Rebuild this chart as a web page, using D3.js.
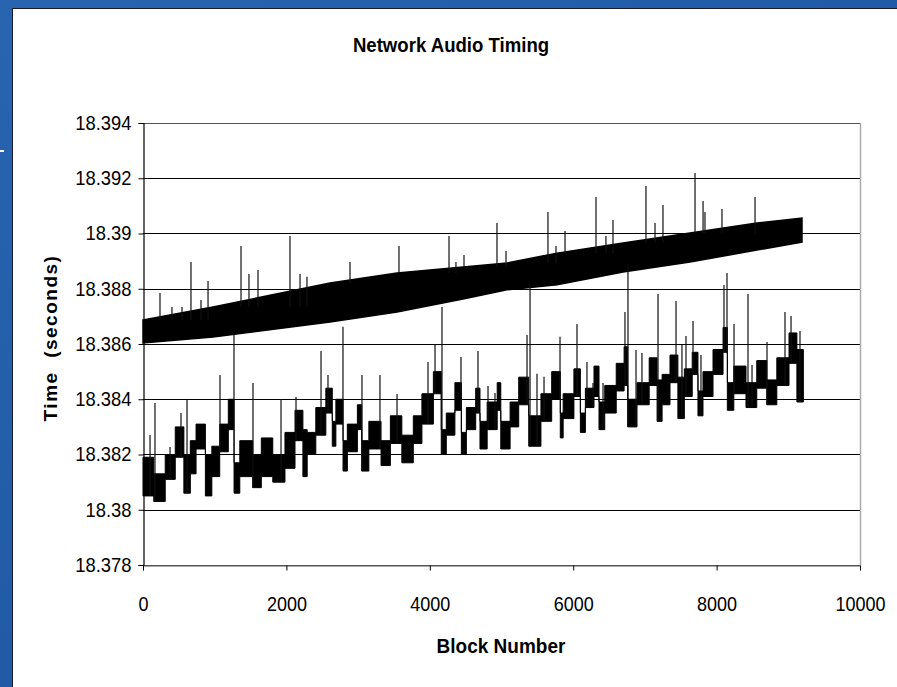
<!DOCTYPE html>
<html lang="en">
<head>
	<meta charset="UTF-8">
	<title>Network Audio Timing</title>
	<script src="https://cdn.jsdelivr.net/npm/d3@7/dist/d3.min.js"></script>
	<style>
		body { margin: 0; background: #1f5aa6; }
		text { font-family: "Liberation Sans", Arial, sans-serif; }
	</style>
</head>
<body>
	<div id="container"></div>
	<script>
		var width = 897;
		var height = 687;

		// y axis ticks (seconds) and x axis ticks (block number)
		var yTicks = [18.378, 18.38, 18.382, 18.384, 18.386, 18.388, 18.39, 18.392, 18.394];
		var yTickLabels = ["18.378", "18.38", "18.382", "18.384", "18.386", "18.388", "18.39", "18.392", "18.394"];
		var xTicks = [0, 2000, 4000, 6000, 8000, 10000];

		// upper trace: band envelope
		var upperBlocks = [0, 976, 2608, 3543, 4463, 5077, 5774, 6695, 7629, 8563, 9191];
		var upperLow = [18.38604, 18.38625, 18.3868, 18.38716, 18.38763, 18.38796, 18.38814, 18.38861, 18.38897, 18.3894, 18.38969];
		var upperHigh = [18.38687, 18.38734, 18.38821, 18.38857, 18.38879, 18.38893, 18.38929, 18.38966, 18.39002, 18.39038, 18.39056];

		// upper trace spikes
		var upperSpikeBlocks = [237, 404, 544, 669, 809, 907, 1367, 1478, 1604, 2050, 2190, 2287, 2887, 3570, 4268, 4365, 4477, 4937, 5063, 5648, 5760, 5886, 6318, 6457, 6555, 7015, 7141, 7252, 7699, 7811, 7838, 8075, 8536];
		var upperSpikeTops = [18.38785, 18.38734, 18.38734, 18.38897, 18.38759, 18.38828, 18.38955, 18.38853, 18.38868, 18.38991, 18.38853, 18.38843, 18.38897, 18.38955, 18.38991, 18.38897, 18.38922, 18.39038, 18.38937, 18.39078, 18.38955, 18.39009, 18.39132, 18.38991, 18.39049, 18.39172, 18.39038, 18.39103, 18.39219, 18.39118, 18.39078, 18.39089, 18.39132];

		// lower trace: stepped blocks (start block, low, high)
		var lowerBlocks = [0, 150, 310, 450, 570, 660, 740, 870, 960, 1070, 1190, 1270, 1350, 1530, 1650, 1810, 1980, 2120, 2230, 2290, 2410, 2550, 2640, 2690, 2790, 2850, 2990, 3050, 3150, 3320, 3450, 3610, 3770, 3890, 4050, 4160, 4230, 4350, 4440, 4510, 4640, 4700, 4800, 4940, 4990, 5120, 5240, 5380, 5550, 5700, 5820, 5860, 6010, 6100, 6170, 6290, 6360, 6440, 6600, 6710, 6760, 6890, 7060, 7170, 7240, 7350, 7460, 7550, 7660, 7740, 7810, 7950, 8090, 8150, 8240, 8410, 8560, 8700, 8840, 9010, 9120, 9210];
		var lowerLow = [18.3805, 18.3803, 18.3811, 18.3819, 18.3806, 18.3813, 18.3822, 18.3805, 18.3812, 18.3821, 18.3829, 18.3806, 18.3812, 18.3808, 18.3812, 18.381, 18.3815, 18.3825, 18.3812, 18.382, 18.3827, 18.3835, 18.3823, 18.3831, 18.3814, 18.3821, 18.3829, 18.3814, 18.3822, 18.3816, 18.3824, 18.3817, 18.3824, 18.3831, 18.3842, 18.382, 18.3827, 18.3836, 18.382, 18.3829, 18.3835, 18.3822, 18.3829, 18.3836, 18.3822, 18.383, 18.3838, 18.3823, 18.3832, 18.384, 18.3826, 18.3833, 18.3841, 18.3828, 18.3837, 18.3841, 18.3829, 18.3835, 18.3843, 18.3845, 18.383, 18.3838, 18.3845, 18.3832, 18.3838, 18.3846, 18.3833, 18.3841, 18.3849, 18.3834, 18.3841, 18.3849, 18.3857, 18.3836, 18.3842, 18.3837, 18.3844, 18.3838, 18.3845, 18.3853, 18.3839, 18.3839];
		var lowerHigh = [18.3819, 18.3813, 18.382, 18.383, 18.382, 18.3825, 18.3831, 18.382, 18.3823, 18.3831, 18.384, 18.3817, 18.3825, 18.382, 18.3826, 18.382, 18.3828, 18.3836, 18.3829, 18.3828, 18.3837, 18.3844, 18.3832, 18.384, 18.3825, 18.3831, 18.3838, 18.3825, 18.3832, 18.3825, 18.3834, 18.3827, 18.3834, 18.3842, 18.385, 18.3829, 18.3835, 18.3846, 18.3828, 18.3837, 18.3844, 18.3832, 18.3839, 18.3846, 18.3832, 18.3839, 18.3848, 18.3834, 18.3842, 18.385, 18.3835, 18.3842, 18.3851, 18.3835, 18.3844, 18.3852, 18.3839, 18.3845, 18.3853, 18.3859, 18.384, 18.3846, 18.3855, 18.3847, 18.3849, 18.3856, 18.3848, 18.3851, 18.3857, 18.3843, 18.385, 18.3858, 18.3866, 18.3846, 18.3852, 18.3846, 18.3854, 18.3847, 18.3855, 18.3864, 18.3858, 18.3858];

		// lower trace spikes
		var lowerSpikeBlocks = [98, 167, 377, 530, 614, 1074, 1269, 1534, 1925, 2134, 2483, 2580, 2789, 3054, 3305, 3543, 3975, 4073, 4170, 4435, 4672, 4812, 4909, 5356, 5398, 5495, 5593, 5816, 6053, 6192, 6276, 6416, 6722, 6764, 6876, 6959, 7183, 7434, 7517, 7573, 7671, 7782, 8103, 8145, 8243, 8438, 8494, 8703, 8954, 9038, 9163];
		var lowerSpikeTops = [18.38271, 18.38386, 18.38227, 18.3835, 18.38401, 18.38488, 18.38633, 18.38459, 18.38401, 18.38408, 18.38575, 18.38488, 18.38662, 18.38488, 18.38488, 18.38419, 18.38535, 18.38596, 18.38734, 18.38553, 18.38575, 18.38448, 18.38423, 18.38633, 18.38821, 18.38492, 18.38481, 18.38626, 18.38672, 18.38535, 18.38459, 18.38459, 18.38716, 18.38886, 18.38578, 18.38567, 18.38781, 18.38756, 18.38596, 18.38629, 18.38683, 18.3856, 18.38814, 18.38857, 18.38672, 18.38781, 18.38524, 18.38607, 18.38716, 18.38701, 18.38647];

		var svg = d3.select("#container").append("svg")
				.attr("width", width)
				.attr("height", height)
				.style("display", "block");

		// blue slide background with the white chart panel
		var grad = svg.append("defs").append("linearGradient")
				.attr("id", "bg")
				.attr("x1", 0).attr("y1", 0).attr("x2", 1).attr("y2", 1);
		grad.append("stop").attr("offset", "0%").attr("stop-color", "#2864b0");
		grad.append("stop").attr("offset", "100%").attr("stop-color", "#1a529c");
		svg.append("rect")
				.attr("width", width).attr("height", height)
				.attr("fill", "url(#bg)");
		svg.append("rect")
				.attr("x", 0).attr("y", 150).attr("width", 4).attr("height", 2)
				.attr("fill", "#ffffff");
		svg.append("rect")
				.attr("x", 12.5).attr("y", 8.5)
				.attr("width", width).attr("height", height)
				.attr("fill", "#ffffff")
				.attr("stroke", "#1a1a2e")
				.attr("stroke-width", 1);

		var x = d3.scaleLinear()
				.domain([0, 10000])
				.range([143, 860]);
		var y = d3.scaleLinear()
				.domain([18.378, 18.394])
				.range([565, 123]);

		// gridlines
		svg.selectAll(".grid").data(yTicks)
			.enter().append("line")
				.attr("x1", x(0))
				.attr("x2", x(10000))
				.attr("y1", d => Math.round(y(d)) + 0.5)
				.attr("y2", d => Math.round(y(d)) + 0.5)
				.style("stroke", (d, i) => (i == 0 || i == yTicks.length - 1) ? "#555" : "#000")
				.style("stroke-width", 1.2);
		svg.append("line")
				.attr("x1", x(10000) + 0.5).attr("x2", x(10000) + 0.5)
				.attr("y1", y(18.394)).attr("y2", y(18.378))
				.style("stroke", "#aaa")
				.style("stroke-width", 1.5);

		// axes
		var yAxis = d3.axisLeft(y)
				.tickValues(yTicks)
				.tickFormat((d, i) => yTickLabels[i])
				.tickSize(5)
				.tickPadding(8);
		var gy = svg.append("g")
				.attr("transform", "translate(" + (x(0) + 0.5) + ",0)")
				.call(yAxis);
		gy.selectAll("text")
				.style("font-size", "20px")
				.attr("transform", "scale(0.92,1)")
				.attr("fill", "#000");

		var xAxis = d3.axisBottom(x)
				.tickValues(xTicks)
				.tickFormat(d3.format("d"))
				.tickSize(5)
				.tickPadding(26);
		var gx = svg.append("g")
				.attr("transform", "translate(0," + (y(18.378) + 0.5) + ")")
				.call(xAxis);
		gx.selectAll("text")
				.style("font-size", "20px")
				.attr("transform", "scale(0.9,1)")
				.attr("fill", "#000");
		gx.select(".domain").style("stroke", "#555");
		svg.selectAll(".tick line").style("stroke", "#000");
		gy.select(".domain").style("stroke", "#000").style("stroke-width", 1.2);

		// upper trace band
		var upper = upperBlocks.map((b, i) => [b, upperLow[i], upperHigh[i]]);
		svg.append("path")
				.datum(upper)
				.attr("d", d3.area()
					.x(d => x(d[0]))
					.y0(d => y(d[1]))
					.y1(d => y(d[2])))
				.attr("fill", "#000")
				.attr("stroke", "#000")
				.attr("stroke-width", 1.5);

		// spikes start inside the band (high edge of the sample before them)
		function upperBase(b) {
			var i = Math.max(d3.bisectRight(upperBlocks, b) - 1, 0);
			return upperHigh[i];
		}
		svg.selectAll(".upper-spike").data(upperSpikeBlocks)
			.enter().append("line")
				.attr("x1", d => x(d))
				.attr("x2", d => x(d))
				.attr("y1", d => y(upperBase(d)))
				.attr("y2", (d, i) => y(upperSpikeTops[i]))
				.style("stroke", "#111")
				.style("stroke-width", 1.2);

		// lower trace stepped band
		var lower = lowerBlocks.map((b, i) => [b, lowerLow[i], lowerHigh[i]]);
		svg.append("path")
				.datum(lower)
				.attr("d", d3.area()
					.curve(d3.curveStepAfter)
					.x(d => x(d[0]))
					.y0(d => y(d[1]))
					.y1(d => y(d[2])))
				.attr("fill", "#000")
				.attr("stroke", "#000")
				.attr("stroke-width", 1);

		function lowerBase(b) {
			var i = Math.max(d3.bisectRight(lowerBlocks, b) - 1, 0);
			return lowerLow[i];
		}
		svg.selectAll(".lower-spike").data(lowerSpikeBlocks)
			.enter().append("line")
				.attr("x1", d => x(d))
				.attr("x2", d => x(d))
				.attr("y1", d => y(lowerBase(d)))
				.attr("y2", (d, i) => y(lowerSpikeTops[i]))
				.style("stroke", "#111")
				.style("stroke-width", 1.2);

		// titles
		svg.append("text")
				.attr("transform", "translate(451,52) scale(0.93,1)")
				.attr("text-anchor", "middle")
				.style("font-size", "20px").style("font-weight", "bold")
				.text("Network Audio Timing");
		svg.append("text")
				.attr("transform", "translate(501,653) scale(0.95,1)")
				.attr("text-anchor", "middle")
				.style("font-size", "20px").style("font-weight", "bold")
				.text("Block Number");
		svg.append("text")
				.attr("transform", "translate(57,338) rotate(-90)")
				.attr("text-anchor", "middle")
				.attr("xml:space", "preserve")
				.style("white-space", "pre")
				.style("font-size", "19px").style("font-weight", "bold")
				.style("letter-spacing", "1.5px")
				.text("Time  (seconds)");
	</script>
</body>
</html>
